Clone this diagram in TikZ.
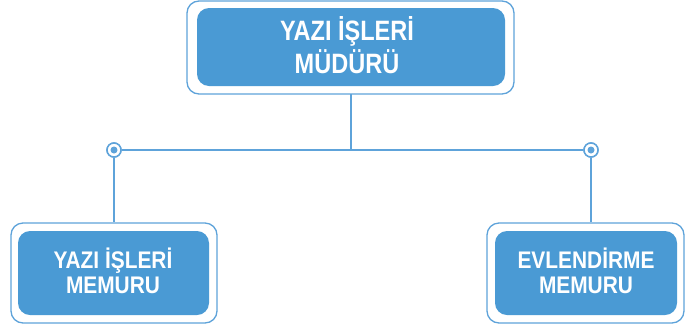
\documentclass[tikz,border=0pt]{standalone}
\usepackage{fontspec}
\setmainfont{Liberation Sans}
\definecolor{boxblue}{HTML}{4A9AD4}
\definecolor{lineblue}{HTML}{5EA3DA}
\begin{document}
\begin{tikzpicture}[x=1pt,y=-1pt,
  outerbox/.style={draw=lineblue,line width=1.3pt,fill=white,rounded corners=12pt},
  innerbox/.style={fill=boxblue,rounded corners=12pt},
  lbl/.style={text=white,font=\bfseries,align=center},
  conn/.style={draw=lineblue,line width=1.6pt},
  ring/.style={circle,draw=lineblue,line width=1.5pt,fill=white,minimum size=14pt,inner sep=0pt},
  dotc/.style={circle,fill=lineblue,minimum size=7pt,inner sep=0pt}]
\useasboundingbox (0,0) rectangle (685,330);
% top box
\draw[outerbox] (187,1) rectangle (514,94);
\fill[innerbox] (197,8) rectangle (505,86);
\node[lbl,font=\fontsize{28}{33}\selectfont\bfseries] (top) at (347,45) {\scalebox{0.84}[1]{YAZI İŞLERİ}\\\scalebox{0.84}[1]{MÜDÜRÜ}};
% left box
\draw[outerbox] (11,223) rectangle (217,323);
\fill[innerbox] (18,231) rectangle (209,315);
\node[lbl,font=\fontsize{24}{25.5}\selectfont\bfseries] (left) at (113,271) {\scalebox{0.87}[1]{YAZI İŞLERİ}\\\scalebox{0.87}[1]{MEMURU}};
% right box
\draw[outerbox] (487,223) rectangle (684,323);
\fill[innerbox] (495,231) rectangle (677,315);
\node[lbl,font=\fontsize{24}{25.5}\selectfont\bfseries] (right) at (586,271) {\scalebox{0.87}[1]{EVLENDİRME}\\\scalebox{0.87}[1]{MEMURU}};
% connectors
\coordinate (tb) at (351,94);
\coordinate (mid) at (351,150);
\coordinate (lt) at (114,222);
\coordinate (rt) at (591,222);
\node[ring] (rl) at (114,150) {};
\node[ring] (rr) at (591,150) {};
\draw[conn] (tb) -- (mid);
\draw[conn] (rl) -- (rr);
\draw[conn] (rl) -- (lt);
\draw[conn] (rr) -- (rt);
\node[ring] at (rl) {};
\node[ring] at (rr) {};
\node[dotc] at (rl) {};
\node[dotc] at (rr) {};
\end{tikzpicture}
\end{document}
